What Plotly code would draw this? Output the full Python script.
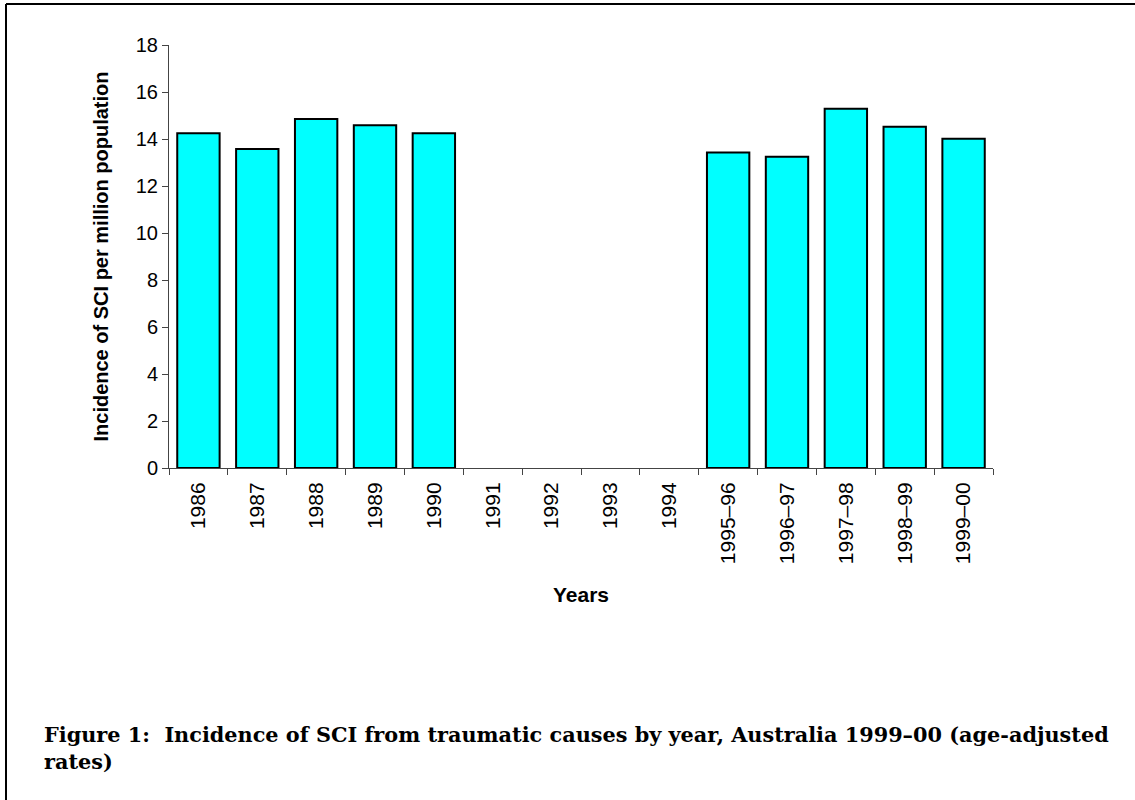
import plotly.graph_objects as go

# Incidence of spinal cord injury (traumatic) per million population
years = ["1986", "1987", "1988", "1989", "1990", "1991", "1992", "1993", "1994",
         "1995–96", "1996–97", "1997–98", "1998–99", "1999–00"]
incidence = [14.25, 13.57, 14.85, 14.58, 14.25, None, None, None, None,
             13.43, 13.25, 15.29, 14.52, 14.01]
y_ticks = list(range(0, 20, 2))

W, H = 1135, 800
L, R, T, B = 169, 142, 45, 332
PW, PH = W - L - R, H - T - B


def px_x(px):
    return (px - L) / PW


def px_y(py):
    return (H - B - py) / PH


fig = go.Figure(
    go.Bar(
        x=years,
        y=incidence,
        marker=dict(color="#00FFFF", line=dict(color="#000000", width=2)),
        hoverinfo="x+y",
    )
)

sans = "Liberation Sans, Arial, sans-serif"
axis_font = dict(family=sans, size=20, color="#000000")
xtick_font = dict(family=sans, size=21, color="#000000")

fig.update_layout(
    width=W,
    height=H,
    margin=dict(l=L, r=R, t=T, b=B, autoexpand=False),
    paper_bgcolor="#FFFFFF",
    plot_bgcolor="#FFFFFF",
    bargap=0.28,
    showlegend=False,
    font=axis_font,
    xaxis=dict(
        type="category",
        categoryorder="array",
        categoryarray=years,
        tickson="boundaries",
        ticks="outside",
        ticklen=6,
        tickcolor="#444444",
        tickangle=-90,
        tickfont=xtick_font,
        ticklabelstandoff=5,
        showline=True,
        linecolor="#444444",
        linewidth=1,
        showgrid=False,
        title=dict(text="<b>Years</b>", font=dict(family=sans, size=21, color="#000000"),
                   standoff=24),
        automargin=False,
    ),
    yaxis=dict(
        range=[0, 18],
        tickvals=y_ticks,
        ticks="outside",
        ticklen=6,
        tickcolor="#444444",
        tickfont=axis_font,
        showline=True,
        linecolor="#444444",
        linewidth=1,
        showgrid=False,
        zeroline=False,
        title=dict(text="<b>Incidence of SCI per million population</b>",
                   font=axis_font, standoff=21),
        automargin=False,
    ),
    shapes=[
        dict(type="line", xref="paper", yref="paper",
             x0=px_x(6), x1=px_x(6), y0=px_y(4), y1=px_y(H),
             line=dict(color="#000000", width=2)),
        dict(type="line", xref="paper", yref="paper",
             x0=px_x(6), x1=px_x(W), y0=px_y(4), y1=px_y(4),
             line=dict(color="#000000", width=2)),
    ],
    annotations=[
        dict(
            xref="paper", yref="paper",
            x=px_x(42), y=px_y(720),
            xanchor="left", yanchor="top", align="left",
            showarrow=False,
            text="<b>Figure 1:  Incidence of SCI from traumatic causes by year, "
                 "Australia 1999–00 (age-adjusted<br>rates)</b>",
            font=dict(family="DejaVu Serif, Georgia, serif", size=20.8,
                      color="#000000"),
        )
    ],
)

fig.write_html("out.html")
